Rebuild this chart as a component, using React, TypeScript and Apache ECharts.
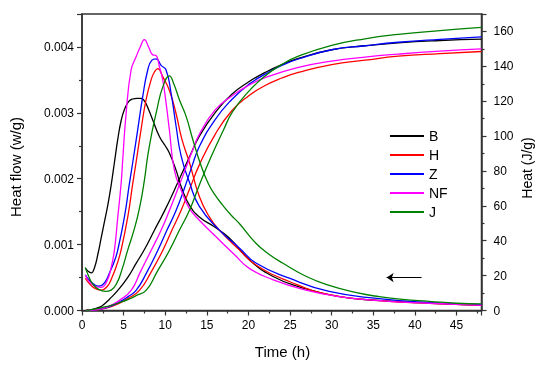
import React, { useEffect, useRef } from "react";
import * as echarts from "echarts";

// ---- data (time h, heat flow in 1e-3 W/g) ----
const B_FLOW: [number, number][] = [[0.4,0.65],[0.7,0.6],[1.1,0.57],[1.5,0.65],[1.9,0.85],[2.3,1.1],[2.7,1.35],[3.1,1.6],[3.5,1.9],[3.9,2.25],[4.3,2.6],[4.7,2.88],[5.1,3.05],[5.6,3.17],[6.1,3.21],[6.6,3.22],[7.1,3.22],[7.5,3.18],[8.0,3.05],[8.5,2.89],[9.3,2.64],[10.0,2.5],[10.5,2.39],[11.3,2.13],[12.0,1.85],[12.9,1.6],[14.1,1.42],[15.9,1.27],[17.7,1.1],[20.1,0.77],[22.9,0.52],[26.1,0.36],[30.9,0.21],[36,0.15],[42,0.11],[48,0.08]];
const H_FLOW: [number, number][] = [[0.4,0.49],[0.8,0.42],[1.5,0.34],[2.3,0.31],[3.0,0.36],[3.6,0.5],[4.2,0.7],[4.7,0.92],[5.5,1.42],[6.1,1.93],[6.5,2.25],[7.1,2.75],[7.7,3.2],[8.3,3.5],[8.7,3.62],[9.1,3.67],[9.7,3.55],[10.5,3.34],[11.3,2.99],[12.0,2.6],[12.9,2.25],[14.1,1.73],[15.3,1.42],[16.5,1.22],[18.9,0.92],[20.9,0.69],[24.9,0.44],[29.7,0.24],[35.7,0.15],[41.7,0.11],[48,0.08]];
const Z_FLOW: [number, number][] = [[0.4,0.54],[0.8,0.47],[1.4,0.4],[2.0,0.37],[2.7,0.42],[3.4,0.6],[3.9,0.75],[4.3,0.92],[5.1,1.42],[5.7,1.93],[6.1,2.25],[6.7,2.75],[7.3,3.25],[7.9,3.65],[8.4,3.8],[8.9,3.82],[9.5,3.72],[10.1,3.65],[10.7,3.3],[11.3,2.8],[11.9,2.35],[12.9,1.95],[14.1,1.58],[16.5,1.22],[18.9,0.95],[20.9,0.72],[24.9,0.49],[29.7,0.29],[35.7,0.18],[41.7,0.12],[48,0.09]];
const NF_FLOW: [number, number][] = [[0.4,0.54],[0.8,0.45],[1.4,0.38],[2.3,0.35],[3.0,0.45],[3.5,0.65],[3.9,0.92],[4.3,1.42],[4.7,1.93],[4.9,2.3],[5.3,2.99],[5.9,3.65],[6.5,3.85],[7.0,4.0],[7.5,4.11],[8.0,4.0],[8.5,3.88],[8.9,3.87],[9.3,3.7],[9.7,3.5],[10.1,3.15],[10.5,2.74],[11.1,2.13],[12.0,1.8],[12.9,1.55],[14.1,1.37],[16.5,1.07],[18.3,0.85],[20.1,0.64],[22.9,0.47],[26.9,0.31],[30.9,0.21],[35.7,0.15],[41.7,0.11],[48,0.08]];
const J_FLOW: [number, number][] = [[0.4,0.65],[0.8,0.52],[1.3,0.4],[2.0,0.32],[2.8,0.29],[3.5,0.31],[4.2,0.42],[4.8,0.62],[5.5,0.92],[6.2,1.2],[6.9,1.55],[7.5,1.98],[7.9,2.35],[8.4,2.7],[9.0,3.05],[9.7,3.39],[10.5,3.56],[11.0,3.45],[11.7,3.2],[12.5,2.95],[13.3,2.6],[14.3,2.2],[15.2,1.92],[16.0,1.75],[16.9,1.6],[17.9,1.45],[18.9,1.32],[20.9,1.02],[22.5,0.85],[24.1,0.72],[26.9,0.52],[29.7,0.38],[33,0.27],[35.7,0.21],[38.5,0.17],[41.7,0.14],[45,0.11],[48,0.1]];

// ---- data (time h, heat J/g) ----
const B_HEAT: [number, number][] = [[0.5,0],[1.5,0.9],[2.1,1.9],[2.5,3],[3.3,6.5],[4.3,11.5],[5.5,19],[6.5,27],[7.5,35],[8.7,46],[9.9,57],[11,68],[12,78.5],[13,89],[14.1,100],[16,113.5],[18,124],[20,131],[22,136.5],[24,141],[26,144.5],[30,149.5],[34,151.8],[38,153.5],[43,154.8],[48,155.6]];
const H_HEAT: [number, number][] = [[0.5,0],[1.5,0.3],[2.5,0.9],[3.5,2.2],[4.5,4.2],[5.5,6.8],[6.9,11.5],[8.3,22],[9.7,34.4],[10.8,46],[11.9,57.3],[13,70.5],[14.1,83.5],[16,101],[18,114.5],[20,123],[22,129],[24,133.3],[26,136.5],[30,141],[34,143.5],[38,145.8],[43,147.3],[48,148.5]];
const Z_HEAT: [number, number][] = [[0.5,0],[1.5,0.4],[2.5,1.1],[3.5,2.6],[4.5,4.8],[5.5,7.8],[6.5,11.5],[7.8,22],[9.1,34.4],[10.2,46],[11.3,57.3],[12.3,70],[13.2,82.5],[14.1,94],[16,109.5],[18,121],[20,129.5],[22,135.5],[24,140.5],[26,144.2],[30,149.5],[34,151.8],[38,153.8],[43,155.5],[48,156.9]];
const NF_HEAT: [number, number][] = [[0.5,0],[1.5,0.4],[2.5,1.2],[3.5,3],[4.5,5.8],[5.9,11.5],[7,22],[8.3,34.4],[9.5,46],[10.5,57.3],[11.5,69.5],[12.5,82],[13.3,92],[14.1,101],[16,115],[18,123],[20,129],[22,133.5],[26,139.4],[30,143],[34,145.3],[38,147],[43,148.7],[48,150]];
const J_HEAT: [number, number][] = [[0.5,0],[1.5,0.8],[2.5,1.8],[3.5,3],[4.5,4.5],[5.5,6.2],[6.5,8.5],[7.7,11.5],[9,22],[10.5,34.4],[11.7,46],[12.9,57.3],[14.1,72],[15.5,88],[17,103.5],[18.1,114],[20,125.5],[22,134.5],[24,141],[26,145.8],[30,152],[34,155.8],[38,158.3],[43,160.5],[48,162.3]];

const NAMES = ["B", "H", "Z", "NF", "J"];
const FLOW_SETS = [B_FLOW, H_FLOW, Z_FLOW, NF_FLOW, J_FLOW];
const HEAT_SETS = [B_HEAT, H_HEAT, Z_HEAT, NF_HEAT, J_HEAT];

// arrow annotation (time h, heat flow 1e-3 W/g)
const ARROW_FROM_T = 40.8;
const ARROW_TO_T = 36.6;
const ARROW_V = 0.5;

const COLORS = ["#000000", "#ff0000", "#0000ff", "#ff00ff", "#008000"];
const FONT = "'Liberation Sans', Arial, sans-serif";
const AXIS_COLOR = "#333333";

export default function App() {
  const ref = useRef<HTMLDivElement>(null);
  useEffect(() => {
    if (!ref.current) return;
    const chart = echarts.init(ref.current, null, { renderer: "svg" });
    const axisCommon = {
      axisLine: { show: true, onZero: false, lineStyle: { color: AXIS_COLOR, width: 1.5 } },
      axisTick: { show: true, inside: false, length: 5, lineStyle: { color: AXIS_COLOR, width: 1.2 } },
      minorTick: { show: true, splitNumber: 2, length: 3, lineStyle: { color: AXIS_COLOR, width: 1.2 } },
      splitLine: { show: false },
      minorSplitLine: { show: false },
    };
    const series: any[] = [];
    NAMES.forEach((n, i) => {
      const base = {
        type: "line",
        name: n,
        symbol: "none",
        smooth: 0.5,
        lineStyle: { color: COLORS[i], width: 1.3 },
        itemStyle: { color: COLORS[i] },
        emphasis: { disabled: true },
      };
      series.push({
        ...base,
        yAxisIndex: 0,
        data: FLOW_SETS[i].map(([t, v]) => [t, v / 1000]),
        ...(i === 0
          ? {
              markLine: {
                silent: true,
                symbol: ["none", "arrow"],
                symbolSize: 7,
                label: { show: false },
                emphasis: { disabled: true },
                lineStyle: { color: "#000", width: 1.2, type: "solid" },
                data: [[{ coord: [ARROW_FROM_T, ARROW_V / 1000] }, { coord: [ARROW_TO_T, ARROW_V / 1000] }]],
              },
            }
          : {}),
      });
      series.push({ ...base, yAxisIndex: 1, data: HEAT_SETS[i] });
    });

    chart.setOption({
      animation: false,
      textStyle: { fontFamily: FONT },
      grid: { left: 82, right: 68.5, top: 14, bottom: 59.5, show: true, borderColor: AXIS_COLOR, borderWidth: 1.5 },
      legend: {
        data: NAMES,
        orient: "vertical",
        left: 385,
        top: 124,
        itemWidth: 34,
        itemHeight: 2,
        itemGap: 5,
        icon: "rect",
        textStyle: { fontSize: 14, color: "#000", fontFamily: FONT },
        selectedMode: false,
      },
      xAxis: {
        type: "value",
        min: 0,
        max: 48,
        interval: 5,
        ...axisCommon,
        axisLabel: { color: "#000", fontSize: 12, margin: 8, showMaxLabel: false, fontFamily: FONT },
      },
      yAxis: [
        {
          type: "value",
          position: "left",
          min: 0,
          max: 0.0045,
          interval: 0.001,
          ...axisCommon,
          axisLabel: {
            color: "#000",
            fontSize: 12,
            margin: 8,
            showMaxLabel: false,
            fontFamily: FONT,
            formatter: (v: number) => v.toFixed(3),
          },
        },
        {
          type: "value",
          position: "right",
          min: 0,
          max: 170,
          interval: 20,
          ...axisCommon,
          axisLabel: { color: "#000", fontSize: 12, margin: 12, showMaxLabel: false, fontFamily: FONT },
        },
      ],
      graphic: [
        {
          type: "text",
          x: 15,
          y: 167,
          rotation: Math.PI / 2,
          style: { text: "Heat flow (w/g)", fontSize: 15, fill: "#000", align: "center", verticalAlign: "middle", fontFamily: FONT },
        },
        {
          type: "text",
          x: 527,
          y: 168,
          rotation: Math.PI / 2,
          style: { text: "Heat (J/g)", fontSize: 14, fill: "#000", align: "center", verticalAlign: "middle", fontFamily: FONT },
        },
        {
          type: "text",
          x: 282.5,
          y: 351,
          style: { text: "Time (h)", fontSize: 15, fill: "#000", align: "center", verticalAlign: "middle", fontFamily: FONT },
        },
      ],
      series,
    });
    return () => chart.dispose();
  }, []);
  return <div ref={ref} style={{ position: "fixed", left: 0, top: 0, width: 550, height: 370 }} />;
}
